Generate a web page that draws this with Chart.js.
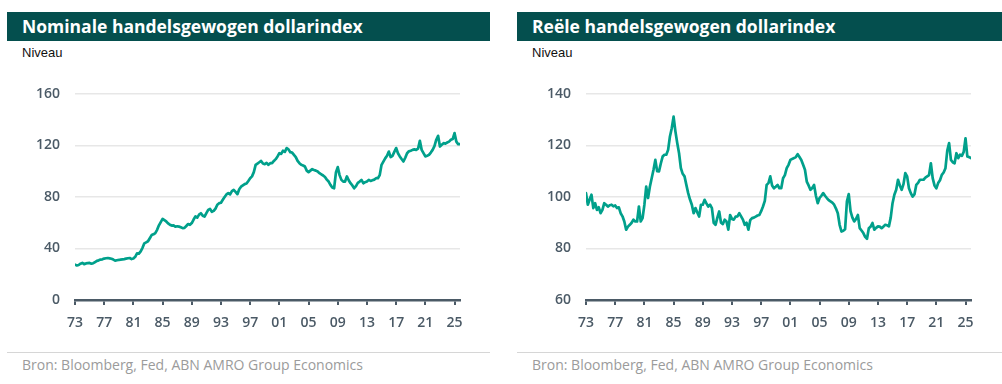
<!DOCTYPE html>
<html>
<head>
<meta charset="utf-8">
<script src="https://cdn.jsdelivr.net/npm/chart.js@4"></script>
<style>
  body { margin: 0; background: #fff; width: 1002px; height: 384px; overflow: hidden; position: relative; }
  .titel { position: absolute; top: 12px; height: 29px; background: #044f4e; color: #fff;
           font: 700 17.5px "Open Sans", sans-serif; line-height: 29px; padding-left: 15px; box-sizing: border-box; }
  .eenheid { position: absolute; top: 45px; font: 13px "Liberation Sans", Arial, sans-serif; line-height: 15px; color: #111; }
  .lijn { position: absolute; top: 352px; height: 1px; background: #d6d6d6; }
  .bron { position: absolute; top: 356px; font: 14px "Open Sans", sans-serif; line-height: 18px; color: #9b9b9b; }
  .grafiek { position: absolute; top: 70px; height: 270px; }
</style>
</head>
<body>
<div class="titel" style="left:7px;width:483px">Nominale handelsgewogen dollarindex</div>
<div class="eenheid" style="left:22px">Niveau</div>
<div class="grafiek" style="left:0;width:495px"><canvas id="nominaal"></canvas></div>
<div class="lijn" style="left:7px;width:483px"></div>
<div class="bron" style="left:22px">Bron: Bloomberg, Fed, ABN AMRO Group Economics</div>

<div class="titel" style="left:517px;width:485px">Reële handelsgewogen dollarindex</div>
<div class="eenheid" style="left:532px">Niveau</div>
<div class="grafiek" style="left:510px;width:492px"><canvas id="reeel"></canvas></div>
<div class="lijn" style="left:517px;width:485px"></div>
<div class="bron" style="left:532px">Bron: Bloomberg, Fed, ABN AMRO Group Economics</div>

<script>
// kwartaalwaarden vanaf 1973 Q1
const startJaar = 1973;
const tickJaren = [1973, 1977, 1981, 1985, 1989, 1993, 1997, 2001, 2005, 2009, 2013, 2017, 2021, 2025];
const tickNominaal = [0, 40, 80, 120, 160];
const tickReeel = [60, 80, 100, 120, 140];

const nominaal = [
  27.5, 26.8, 27.2, 28.2,  28.8, 27.8, 28.4, 28.6,  28.8, 28.2, 28.6, 29.5,  30.4, 30.8, 31.4, 31.6,
  32.2, 32.4, 32.6, 32.3,  32.0, 31.4, 30.6, 30.9,  31.1, 31.4, 31.6, 31.8,  32.1, 32.4, 32.6, 31.8,
  32.2, 33.5, 36.2, 36.0,  37.8, 40.5, 44.0, 44.8,  45.6, 48.0, 50.4, 51.0,  52.0, 54.5, 58.0, 60.5,
  63.0, 62.0, 61.0, 59.5,  58.5, 57.8, 58.0, 56.9,  57.3, 57.0, 56.5, 55.8,  56.0, 57.5, 59.0, 58.4,
  59.8, 62.5, 65.0, 64.0,  66.3, 67.4, 65.5, 64.8,  67.5, 70.0, 70.8, 68.5,  69.2, 71.0, 74.0, 75.2,
  75.5, 77.8, 80.0, 82.0,  83.0, 82.0, 84.5, 85.5,  84.0, 82.2, 86.0, 88.0,  89.0, 90.0, 90.5, 92.5,
  94.6, 96.0, 99.3, 105.0,  106.0, 107.0, 108.0, 106.0,  105.5, 106.5, 105.0, 106.3,  106.3, 108.0, 109.4, 111.5,
  114.0, 113.5, 115.9, 115.0,  118.0, 117.0, 114.8, 114.5,  112.7, 111.0, 108.0, 106.3,  105.0, 104.5, 103.7, 100.5,
  99.3, 100.5, 101.6, 101.0,  100.5, 99.8, 98.5, 97.6,  96.7, 95.5, 93.5, 92.0,  89.4, 87.4, 86.8, 99.0,
  103.2, 97.0, 93.3, 92.0,  92.0, 96.0, 93.0, 90.7,  89.0, 86.8, 88.5, 91.0,  92.0, 93.3, 90.7, 91.5,
  92.0, 93.3, 92.5, 93.0,  93.5, 94.6, 94.6, 97.0,  105.0, 107.5, 110.0, 112.0,  115.3, 111.0, 112.0, 115.0,
  118.0, 114.0, 111.5, 109.5,  107.6, 110.5, 114.0, 115.5,  116.0, 116.6, 117.0, 116.6,  117.5, 123.6, 116.6, 114.0,
  111.5, 112.0, 112.7, 114.5,  116.6, 119.5, 124.5, 127.5,  119.2, 120.5, 121.8, 121.5,  122.3, 123.0, 124.4, 125.0,
  129.6, 123.0, 121.0, 121.0
];

const reeel = [
  101.5, 97.0, 99.0, 100.9,  95.7, 97.6, 95.0, 96.0,  93.7, 95.0, 97.6, 97.0,  96.3, 96.8, 97.0, 96.4,
  96.7, 95.7, 96.0, 93.7,  92.5, 90.5, 87.3, 88.5,  89.2, 90.0, 91.2, 90.5,  90.5, 96.3, 90.5, 91.8,
  97.0, 104.0, 99.6, 104.0,  107.3, 110.6, 114.4, 110.0,  109.9, 113.0, 115.7, 116.4,  116.4, 118.3, 123.5, 126.7,
  131.2, 125.5, 121.0, 117.0,  111.2, 109.0, 108.0, 104.7,  101.5, 99.0, 97.0, 93.7,  95.7, 94.0, 92.4, 97.0,
  97.0, 98.9, 97.5, 96.3,  97.0, 95.7, 90.0, 89.2,  92.0, 94.4, 90.0, 89.5,  91.2, 90.5, 87.3, 93.0,
  91.5, 91.2, 92.4, 92.5,  93.7, 92.5, 91.2, 89.2,  90.0, 87.3, 91.0, 91.8,  92.0, 92.4, 92.8, 93.0,
  94.5, 96.3, 98.5, 104.7,  105.4, 108.0, 104.5, 103.4,  104.0, 104.7, 103.4, 103.4,  107.3, 108.5, 111.2, 112.5,
  114.4, 114.8, 115.1, 115.5,  116.6, 115.5, 114.4, 112.5,  110.6, 106.0, 104.5, 102.8,  103.5, 104.7, 100.5, 97.6,
  99.6, 100.5, 101.5, 100.5,  99.6, 98.8, 98.3, 97.8,  97.0, 95.5, 93.7, 89.2,  86.6, 86.9, 87.5, 98.3,
  101.1, 94.4, 92.0, 90.5,  91.5, 93.0, 87.9, 87.0,  86.0, 84.5, 83.8, 87.9,  88.5, 89.9, 87.3, 88.0,
  88.6, 88.5, 87.9, 88.5,  89.2, 89.0, 88.6, 92.0,  97.6, 100.9, 102.8, 106.7,  104.5, 102.8, 105.0, 109.3,
  108.0, 103.4, 101.5, 100.2,  101.0, 104.7, 105.5, 106.7,  106.7, 106.7, 107.5, 108.0,  108.5, 113.1, 107.3, 104.5,
  103.4, 105.4, 106.5, 108.6,  109.5, 111.2, 118.0, 120.9,  114.4, 113.5, 113.1, 117.0,  115.1, 116.4, 116.0, 117.5,
  122.8, 115.7, 115.5, 115.1
];

const asKleur = "#4b5a66";
const lijnKleur = "#00a08b";
const tickFont = { family: "Open Sans", size: 14, weight: "600" };

function maakGrafiek(id, waarden, yTicks, yBreedte) {
  const punten = waarden.map((v, i) => ({ x: startJaar + i / 4, y: v }));
  return new Chart(document.getElementById(id), {
    type: "line",
    data: {
      datasets: [{
        data: punten,
        borderColor: lijnKleur,
        borderWidth: 2.7,
        borderJoinStyle: "round",
        borderCapStyle: "round",
        pointRadius: 0,
        tension: 0,
        fill: false,
      }],
    },
    options: {
      responsive: true,
      maintainAspectRatio: false,
      animation: false,
      layout: { padding: { top: 24, right: id === "nominaal" ? 35 : 31, left: 0, bottom: 0 } },
      plugins: { legend: { display: false }, tooltip: { enabled: false } },
      scales: {
        x: {
          type: "linear",
          min: startJaar,
          max: 2025.75,
          afterBuildTicks: (axis) => { axis.ticks = tickJaren.map((v) => ({ value: v })); },
          afterFit: (scale) => { scale.height = 40; },
          grid: { drawOnChartArea: false, drawTicks: true, tickLength: 5, color: asKleur, lineWidth: 2 },
          border: { display: true, color: asKleur, width: 2.5 },
          ticks: {
            color: asKleur,
            font: tickFont,
            padding: 10,
            maxRotation: 0,
            autoSkip: false,
            callback: (v) => String(v % 100).padStart(2, "0"),
          },
        },
        y: {
          min: yTicks[0],
          max: yTicks[yTicks.length - 1],
          afterBuildTicks: (axis) => { axis.ticks = yTicks.map((v) => ({ value: v })); },
          afterFit: (scale) => { scale.width = yBreedte; },
          grid: { color: "#e7e7e7", lineWidth: 1.5, drawTicks: false },
          border: { display: false },
          ticks: { color: asKleur, font: tickFont, padding: 15 },
        },
      },
    },
  });
}

maakGrafiek("nominaal", nominaal, tickNominaal, 75);
maakGrafiek("reeel", reeel, tickReeel, 76);
</script>
</body>
</html>
